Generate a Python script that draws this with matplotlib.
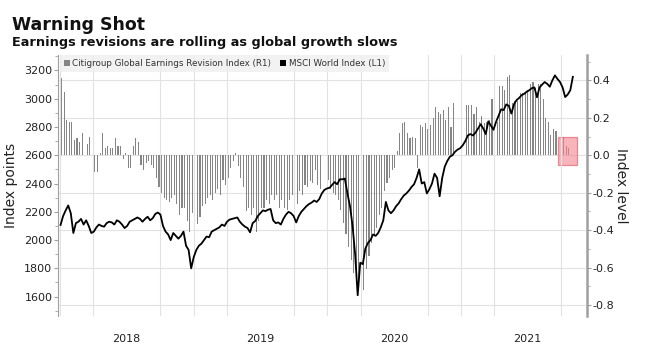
import numpy as np
import pandas as pd
import matplotlib
matplotlib.use("Agg")
import matplotlib.pyplot as plt
import matplotlib.dates as mdates
from matplotlib.patches import Patch, Rectangle
from matplotlib.ticker import MultipleLocator, FuncFormatter

plt.rcParams['font.family'] = ['DejaVu Sans']
plt.rcParams['axes.unicode_minus'] = False

# Citigroup Global Earnings Revision Index, weekly (R1)
revision = [
    0.41, 0.34, 0.19, 0.18, 0.18, 0.08, 0.09, 0.07, 0.12, 0.00,
    0.06, 0.10, 0.00, -0.09, -0.09, 0.01, 0.12, 0.04, 0.05, 0.04,
    0.04, 0.09, 0.05, 0.05, -0.02, 0.01, -0.07, -0.07, 0.05, 0.09,
    0.07, -0.05, -0.08, -0.04, -0.03, -0.05, -0.07, -0.12, -0.17, -0.20,
    -0.23, -0.24, -0.25, -0.23, -0.21, -0.26, -0.32, -0.28, -0.28, -0.35,
    -0.41, -0.31, -0.48, -0.37, -0.33, -0.27, -0.26, -0.23, -0.21, -0.24,
    -0.20, -0.18, -0.21, -0.13, -0.16, -0.12, -0.07, -0.03, 0.01, -0.06,
    -0.12, -0.17, -0.30, -0.28, -0.32, -0.28, -0.41, -0.35, -0.28, -0.28,
    -0.24, -0.26, -0.21, -0.24, -0.21, -0.28, -0.24, -0.28, -0.29, -0.24,
    -0.21, -0.29, -0.26, -0.19, -0.21, -0.16, -0.17, -0.14, -0.15, -0.08,
    -0.16, -0.18, 0.00, 0.00, -0.13, -0.18, -0.20, -0.21, -0.24, -0.29,
    -0.36, -0.42, -0.49, -0.56, -0.63, -0.68, -0.72, -0.67, -0.72, -0.61,
    -0.54, -0.47, -0.43, -0.39, -0.32, -0.28, -0.19, -0.15, -0.12, -0.08,
    -0.07, 0.02, 0.12, 0.17, 0.18, 0.12, 0.09, 0.10, 0.09, -0.07,
    0.16, 0.15, 0.17, 0.14, 0.16, 0.20, 0.26, 0.23, 0.22, 0.24,
    0.19, 0.26, 0.15, 0.28, 0.00, 0.00, 0.00, 0.00, 0.27, 0.27,
    0.27, 0.22, 0.26, 0.18, 0.21, 0.17, 0.18, 0.19, 0.30, 0.15,
    0.18, 0.37, 0.37, 0.35, 0.42, 0.43, 0.28, 0.29, 0.29, 0.33,
    0.33, 0.34, 0.35, 0.38, 0.39, 0.36, 0.38, 0.38, 0.30, 0.20,
    0.18, 0.11, 0.14, 0.13, 0.00, 0.07, 0.10, 0.05, 0.04,
]

# MSCI World Index, weekly (L1)
msci = [
    2107, 2170, 2210, 2245, 2190, 2050, 2120, 2130, 2150, 2110,
    2140, 2100, 2050, 2060, 2090, 2110, 2100, 2095, 2120, 2130,
    2125, 2110, 2140, 2130, 2110, 2085, 2100, 2130, 2140, 2150,
    2160, 2150, 2130, 2150, 2165, 2140, 2155, 2185, 2195, 2180,
    2100, 2060, 2040, 2000, 2050, 2030, 2010, 2030, 2060, 1960,
    1930, 1800, 1880, 1930, 1960, 1975, 2000, 2025, 2020, 2060,
    2070, 2080, 2090, 2110, 2100, 2130, 2145, 2150, 2155, 2160,
    2130, 2110, 2095, 2085, 2055, 2120, 2135, 2170, 2190, 2210,
    2205, 2215, 2220, 2140, 2120, 2125, 2110, 2150, 2180, 2200,
    2190, 2170, 2125, 2170, 2200, 2220, 2240, 2255, 2265, 2280,
    2270, 2290, 2330, 2355, 2365, 2370, 2390, 2410, 2395, 2430,
    2430, 2435, 2330, 2240, 2100, 1900, 1610, 1840, 1830, 1940,
    1980, 2000, 2040, 2030, 2050, 2090, 2140, 2270, 2210, 2190,
    2210, 2240, 2260, 2290, 2315, 2330, 2350, 2375, 2395, 2440,
    2500, 2400, 2410, 2330, 2360, 2400, 2470, 2440, 2310, 2440,
    2520, 2560, 2590, 2600, 2625, 2640, 2650, 2670, 2700, 2740,
    2750, 2740, 2760, 2790, 2820, 2790, 2750, 2840, 2810, 2780,
    2835, 2880, 2925, 2920, 2960, 2950, 2895, 2960, 2990, 3005,
    3025, 3035, 3050, 3060, 3075, 3080, 3010, 3080, 3100, 3118,
    3105, 3085, 3130, 3165, 3140, 3118, 3080, 3012, 3030, 3060,
    3155,
]

rev_dates = pd.date_range('2018-01-05', periods=len(revision), freq='7D')
msci_dates = pd.date_range('2018-01-02', periods=len(msci), freq='7D')

BAR_COLOR = '#858585'
GRID_COLOR = '#e2e2e2'
SPINE_COLOR = '#a0a0a0'

fig = plt.figure(figsize=(6.5, 3.44), dpi=100)
ax = fig.add_axes([0.0892, 0.0814, 0.8135, 0.759])
ax2 = ax.twinx()

# линия поверх столбиков
ax.set_zorder(ax2.get_zorder() + 1)
ax.patch.set_visible(False)

ax2.bar(rev_dates, revision, width=3.0, color=BAR_COLOR, linewidth=0,
        antialiased=False, zorder=2)
ax.plot(msci_dates, msci, color='black', linewidth=1.3, zorder=3)

# выделение последних недель
box_left = mdates.date2num(rev_dates[-4] - pd.Timedelta(days=9))
box_right = mdates.date2num(rev_dates[-1] + pd.Timedelta(days=21))
box = Rectangle((box_left, -0.053), box_right - box_left, 0.153,
                facecolor='#f2838f', edgecolor='#e0505f', alpha=0.6,
                linewidth=0.9, zorder=3)
ax2.add_patch(box)

ax.set_xlim(pd.Timestamp('2017-12-26'), pd.Timestamp('2021-12-10'))
ax.set_ylim(1463, 3310)
ax2.set_ylim(-0.859, 0.536)

# ось X: подписи лет по центру года, сетка по кварталам
ax.xaxis.set_major_locator(mdates.MonthLocator(bymonth=7))
ax.xaxis.set_major_formatter(mdates.DateFormatter('%Y'))
ax.xaxis.set_minor_locator(mdates.MonthLocator(bymonth=(1, 4, 7, 10)))
ax.tick_params(axis='x', which='both', length=0, labelsize=8, pad=13,
               colors='#222222')
ax.grid(which='minor', axis='x', color=GRID_COLOR, linewidth=0.8)
ax2.set_axisbelow(True)
ax2.grid(which='major', axis='y', color=GRID_COLOR, linewidth=0.8)

ax.yaxis.set_major_locator(MultipleLocator(200))
ax.yaxis.set_minor_locator(MultipleLocator(100))
ax.tick_params(axis='y', which='major', length=3, width=0.8, labelsize=8,
               color=SPINE_COLOR, labelcolor='#222222', pad=1)
ax.tick_params(axis='y', which='minor', length=2, width=0.6, color=SPINE_COLOR)

ax2.yaxis.set_major_locator(MultipleLocator(0.2))
ax2.yaxis.set_minor_locator(MultipleLocator(0.1))
ax2.yaxis.set_major_formatter(FuncFormatter(lambda v, p: f'{v:.1f}'))
ax2.tick_params(axis='y', which='major', length=3, width=0.8, labelsize=8,
                color=SPINE_COLOR, labelcolor='#222222', pad=1)
ax2.tick_params(axis='y', which='minor', length=2, width=0.6, color=SPINE_COLOR)

for a in (ax, ax2):
    for s in ('top', 'bottom'):
        a.spines[s].set_visible(False)
ax.spines['right'].set_visible(False)
ax2.spines['left'].set_visible(False)
ax.spines['left'].set_color(SPINE_COLOR)
ax.spines['left'].set_linewidth(0.8)
ax2.spines['right'].set_color(SPINE_COLOR)
ax2.spines['right'].set_linewidth(1.8)

ax.set_ylabel('Index points', fontsize=10, color='#222222')
ax.yaxis.set_label_coords(-0.076, 0.5)
ax2.set_ylabel('Index level', fontsize=10, color='#222222', rotation=-90,
               va='center')
ax2.yaxis.set_label_coords(1.064, 0.5)

handles = [Patch(facecolor=BAR_COLOR, edgecolor='none'),
           Patch(facecolor='black', edgecolor='none')]
labels = ['Citigroup Global Earnings Revision Index (R1)', 'MSCI World Index (L1)']
leg = ax.legend(handles, labels, loc='upper left', bbox_to_anchor=(0.003, 1.0),
                ncol=2, fontsize=6.3, frameon=True, fancybox=False,
                handlelength=0.7, handleheight=0.7, handletextpad=0.3,
                columnspacing=1.0, borderpad=0.45, borderaxespad=0.0)
leg.get_frame().set_facecolor('#efefef')
leg.get_frame().set_edgecolor('none')
for t in leg.get_texts():
    t.set_color('#333333')

fig.text(0.018, 0.913, 'Warning Shot', fontsize=12.5, weight='bold',
         va='baseline', color='#111111')
fig.text(0.018, 0.866, 'Earnings revisions are rolling as global growth slows',
         fontsize=9.3, weight='bold', va='baseline', color='#111111')

fig.savefig('out.png', dpi=100, facecolor='white')
